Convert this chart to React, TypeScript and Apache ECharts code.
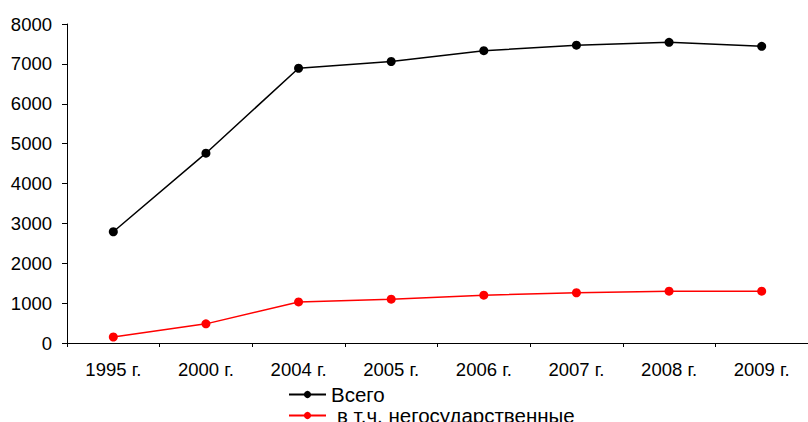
import React, { useEffect, useRef } from "react";
import * as echarts from "echarts";

const categories = ["1995 г.", "2000 г.", "2004 г.", "2005 г.", "2006 г.", "2007 г.", "2008 г.", "2009 г."];
const totalValues = [2790, 4760, 6890, 7060, 7330, 7470, 7540, 7440];
const nonStateValues = [150, 480, 1030, 1100, 1200, 1260, 1300, 1300];
const seriesNames = ["Всего", "в т.ч. негосударственные"];

export default function App() {
  const ref = useRef<HTMLDivElement>(null);
  useEffect(() => {
    if (!ref.current) return;
    const chart = echarts.init(ref.current, null, { renderer: "svg" });
    const font = "'Liberation Sans', Arial, sans-serif";
    const fs = 18.5;
    const lfs = 20.5;
    const legendBase = {
      orient: "vertical",
      left: 288,
      padding: 0,
      itemWidth: 37,
      itemHeight: 9,
    };
    chart.setOption({
      animation: false,
      backgroundColor: "#ffffff",
      textStyle: { fontFamily: font },
      grid: { left: 67, top: 24, bottom: 79, right: -6, containLabel: false },
      legend: [
        {
          ...legendBase,
          top: 384,
          textStyle: { fontFamily: font, fontSize: lfs, color: "#000", padding: [0, 0, 0, 0] },
          data: [seriesNames[0]],
        },
        {
          ...legendBase,
          top: 405,
          textStyle: { fontFamily: font, fontSize: lfs, color: "#000", padding: [0, 0, 0, 6] },
          data: [seriesNames[1]],
        },
      ],
      xAxis: {
        type: "category",
        data: categories,
        boundaryGap: true,
        axisLine: { lineStyle: { color: "#000", width: 1 } },
        axisTick: { show: true, length: 4, lineStyle: { color: "#000" } },
        axisLabel: { color: "#000", fontSize: fs, fontFamily: font, margin: 17, interval: 0 },
        splitLine: { show: false },
      },
      yAxis: {
        type: "value",
        min: 0,
        max: 8000,
        interval: 1000,
        axisLine: { show: true, lineStyle: { color: "#000", width: 1 } },
        axisTick: { show: true, length: 5, lineStyle: { color: "#000" } },
        axisLabel: {
          color: "#000",
          fontSize: fs,
          fontFamily: font,
          margin: 15,
          formatter: (v: number) => String(v),
        },
        splitLine: { show: false },
      },
      series: [
        {
          name: seriesNames[0],
          type: "line",
          data: totalValues,
          symbol: "circle",
          symbolSize: 9,
          itemStyle: { color: "#000" },
          lineStyle: { color: "#000", width: 1.5 },
        },
        {
          name: seriesNames[1],
          type: "line",
          data: nonStateValues,
          symbol: "circle",
          symbolSize: 9,
          itemStyle: { color: "#ff0000" },
          lineStyle: { color: "#ff0000", width: 1.5 },
        },
      ],
    });
    return () => chart.dispose();
  }, []);
  return (
    <div
      ref={ref}
      style={{ position: "fixed", left: 0, top: 0, width: 808, height: 422, background: "#fff" }}
    />
  );
}
